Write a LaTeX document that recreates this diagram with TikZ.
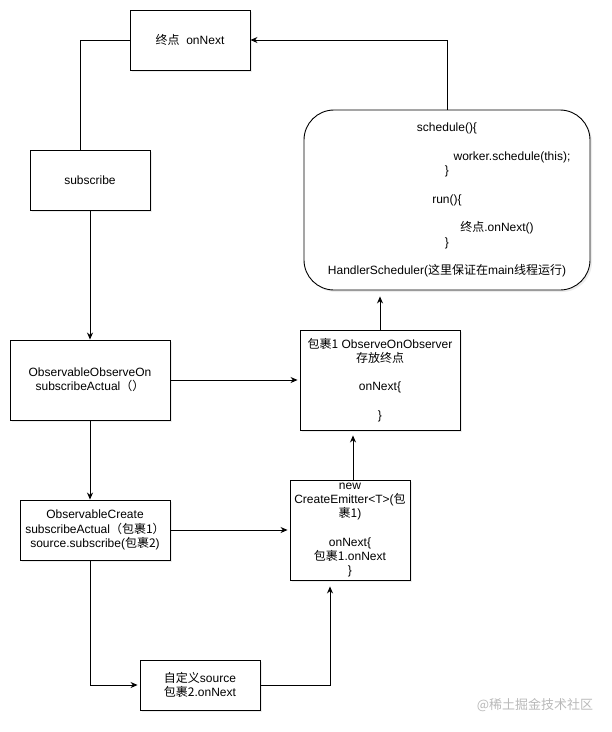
\documentclass[tikz,border=0pt]{standalone}
\usepackage{fontspec}
\setmainfont{Liberation Sans}
\newfontfamily\cjk{Noto Sans CJK SC}
\newcommand{\zh}[1]{{\cjk #1}}
\usetikzlibrary{positioning,arrows.meta,shadows}

\begin{document}
\begin{tikzpicture}[x=1pt,y=-1pt,font=\fontsize{12}{14.3}\selectfont,
      box/.style={draw,line width=0.9pt,fill=white,align=center,inner sep=2pt,
        drop shadow={shadow xshift=2pt,shadow yshift=-2pt,opacity=0.15}},
      rbox/.style={box,rounded corners=30pt},
      link/.style={line width=0.9pt},
      arr/.style={link,-{Stealth[length=7pt,width=6pt]}}]
    \useasboundingbox (0,0) rectangle (612,732);
    % boxes
    \node[box,minimum width=120pt,minimum height=60pt] (dest) at (190,40) {\zh{终点}\ \ onNext};
    \node[box,minimum width=120pt,minimum height=60pt] (sub) at (90,180) {subscribe};
    \node[box,minimum width=160pt,minimum height=80pt] (obsOn) at (90,380) {ObservableObserveOn\\subscribeActual\zh{（）}};
    \node[box,minimum width=150pt,minimum height=60pt] (obsCreate) at (95,530) {ObservableCreate\\subscribeActual\zh{（包裹1）}\\source.subscribe(\zh{包裹2})};
    \node[box,minimum width=120pt,minimum height=50pt] (custom) at (200,685) {\zh{自定义}source\\\zh{包裹2}.onNext};
    \node[box,minimum width=120pt,minimum height=100pt] (emitter) at (350,530) {new\\CreateEmitter<T>(\zh{包}\\\zh{裹1})\\ \\onNext\{\\\zh{包裹1}.onNext\\\}};
    \node[box,minimum width=160pt,minimum height=100pt] (onObs) at (380,380) {\zh{包裹1} ObserveOnObserver\\\zh{存放终点}\\ \\onNext\{\\ \\\}};
    \node[rbox,minimum width=286pt,minimum height=180pt] (sched) at (447,200) {schedule()\{\\ \\\hspace*{130pt}worker.schedule(this);\\\}\\ \\run()\{\\ \\\hspace*{100pt}\zh{终点}.onNext()\\\}\\ \\HandlerScheduler(\zh{这里保证在}main\zh{线程运行})};
    \node[text=gray!55,font=\fontsize{13}{15}\selectfont] (mark) at (535,705) {\zh{@稀土掘金技术社区}};
    % connectors
    \draw[link] (dest.west) -| ([xshift=-10pt]sub.north);
    \draw[arr] (sub) -- (obsOn);
    \draw[arr] (obsOn.south) -- (obsOn.south |- obsCreate.north);
    \draw[arr,shorten >=2pt] (obsOn.east) -- (onObs.west);
    \draw[arr,shorten >=2pt] (obsCreate.east) -- (emitter.west);
    \draw[arr,shorten >=2pt] (obsOn.south |- obsCreate.south) |- (custom.west);
    \draw[arr,shorten >=6pt] (custom.east) -| ([xshift=-20pt]emitter.south);
    \draw[arr,shorten >=5pt] ([xshift=3pt]emitter.north) -- ([xshift=3pt]emitter.north |- onObs.south);
    \draw[arr,shorten >=6pt] (onObs.north) -- (onObs.north |- sched.south);
    \draw[arr] (sched.north) |- (dest.east);
  \end{tikzpicture}
\end{document}
